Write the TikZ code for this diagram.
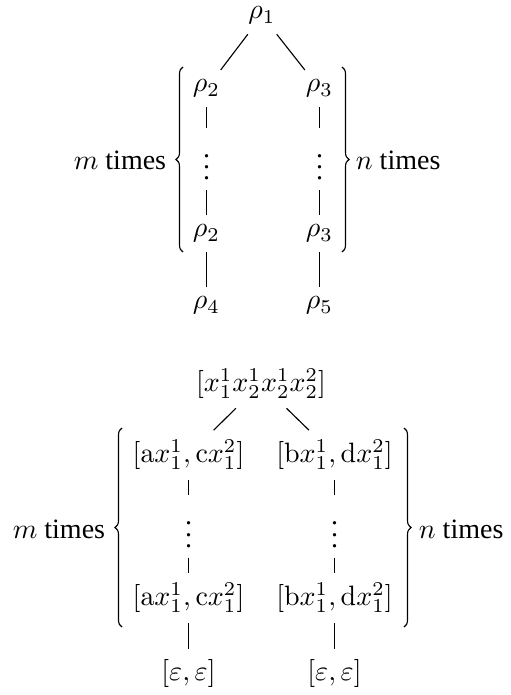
\documentclass[tikz,border=0pt]{standalone}
\usepackage[no-math]{fontspec}
\setmainfont{Liberation Serif}
\usetikzlibrary{decorations.pathreplacing}
\begin{document}
\begin{tikzpicture}[x=0.357pt,y=-0.357pt,
  every node/.style={inner sep=3.33pt},
  link/.style={draw, line width=0.4pt},
  brc/.style={draw, decorate, decoration={brace, amplitude=2.5pt}, line width=0.4pt}]
\useasboundingbox (0,0) rectangle (510,695);
% ---------- top diagram ----------
\node (r1) at (262,15.6) {$\rho_1$};
\node (r2a) at (206.5,88.6) {$\rho_2$};
\node (r3a) at (319.5,88.6) {$\rho_3$};
\node (d2) at (206.5,159) {$\vdots$};
\node (d3) at (319.5,159) {$\vdots$};
\node (r2b) at (206.5,233.6) {$\rho_2$};
\node (r3b) at (319.5,233.6) {$\rho_3$};
\node (r4) at (206.5,305.6) {$\rho_4$};
\node (r5) at (319.5,305.6) {$\rho_5$};
\draw[link] (r1) -- (r2a);
\draw[link] (r1) -- (r3a);
\draw[link] (r2a) -- (d2);
\draw[link] (d2) -- (r2b);
\draw[link] (r2b) -- (r4);
\draw[link] (r3a) -- (d3);
\draw[link] (d3) -- (r3b);
\draw[link] (r3b) -- (r5);
\coordinate (bl1) at (183,252);
\coordinate (bl2) at (183,67);
\coordinate (br1) at (342,67);
\coordinate (br2) at (342,252);
\draw[brc] (bl1) -- (bl2);
\draw[brc] (br1) -- (br2);
\node[anchor=east] (mt1) at (176,160.5) {$m$ times};
\node[anchor=west] (nt1) at (346,160.5) {$n$ times};
% ---------- bottom diagram ----------
\node (t) at (261,383.5) {$[x_1^1x_2^1x_2^1x_2^2]$};
\node (l1) at (188.5,455) {$[\mathrm{a}x_1^1,\mathrm{c}x_1^2]$};
\node (q1) at (334.5,455) {$[\mathrm{b}x_1^1,\mathrm{d}x_1^2]$};
\node (ld) at (188.5,526.5) {$\vdots$};
\node (qd) at (334.5,526.5) {$\vdots$};
\node (l2) at (188.5,598) {$[\mathrm{a}x_1^1,\mathrm{c}x_1^2]$};
\node (q2) at (334.5,598) {$[\mathrm{b}x_1^1,\mathrm{d}x_1^2]$};
\node (le) at (188.5,673) {$[\varepsilon,\varepsilon]$};
\node (qe) at (334.5,673) {$[\varepsilon,\varepsilon]$};
\draw[link] (t) -- (l1);
\draw[link] (t) -- (q1);
\draw[link] (l1) -- (ld);
\draw[link] (ld) -- (l2);
\draw[link] (l2) -- (le);
\draw[link] (q1) -- (qd);
\draw[link] (qd) -- (q2);
\draw[link] (q2) -- (qe);
\coordinate (cl1) at (122,627);
\coordinate (cl2) at (122,428);
\coordinate (cr1) at (404,428);
\coordinate (cr2) at (404,627);
\draw[brc] (cl1) -- (cl2);
\draw[brc] (cr1) -- (cr2);
\node[anchor=east] (mt2) at (115,529) {$m$ times};
\node[anchor=west] (nt2) at (409,529) {$n$ times};
\end{tikzpicture}
\end{document}
